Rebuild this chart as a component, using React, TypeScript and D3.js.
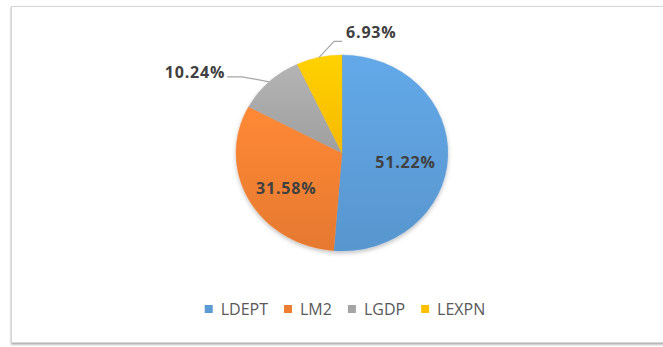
import React from 'react';
import * as d3 from 'd3';

const categories: string[] = ['LDEPT', 'LM2', 'LGDP', 'LEXPN'];
const shares: number[] = [51.22, 31.58, 10.24, 6.93];
const labels: string[] = ['51.22%', '31.58%', '10.24%', '6.93%'];
const colors: string[] = ['#5B9BD5', '#ED7D31', '#A5A5A5', '#FFC000'];

const W = 663;
const H = 347;
const cx = 342;
const cy = 153;
const rx = 106;
const ry = 98;

// layout for callout labels (outside), relative to slice edge point
const callouts: Record<number, { ex: number; ey: number; stub: number; tx: number; ty: number; anchor: string }> = {
  2: { ex: -27, ey: -5, stub: -15, tx: -2, ty: 1, anchor: 'end' },
  3: { ex: 15, ey: -16, stub: 8, tx: 4, ty: -3.5, anchor: 'start' },
};

const LABEL_FONT = '"Open Sans", "Liberation Sans", sans-serif';

function measure(text: string, font: string): number {
  const c = document.createElement('canvas');
  const ctx = c.getContext('2d');
  if (!ctx) return text.length * 8;
  ctx.font = font;
  return ctx.measureText(text).width;
}

export default function App() {
  const pie = d3.pie<number>().sort(null).value((d) => d);
  const arcs = pie(shares);
  const arc = d3.arc<d3.PieArcDatum<number>>().innerRadius(0).outerRadius(ry);
  const sx = rx / ry;

  const pt = (angle: number, r: number): [number, number] => [
    cx + Math.sin(angle) * r * rx,
    cy - Math.cos(angle) * r * ry,
  ];

  // legend layout
  const legendFontSize = 16;
  const legendFont = `${legendFontSize}px ${LABEL_FONT}`;
  const sq = 8;
  const sqGap = 8;
  const itemGap = 16;
  const widths = categories.map((c) => sq + sqGap + measure(c, legendFont));
  const total = d3.sum(widths) + itemGap * (categories.length - 1);
  const legendCx = 345;
  let lx = legendCx - total / 2;
  const legendY = 309;
  const legendItems = categories.map((c, i) => {
    const x = lx;
    lx += widths[i] + itemGap;
    return { c, x, color: colors[i] };
  });

  return (
    <svg
      width={W}
      height={H}
      style={{ position: 'absolute', left: 0, top: 0 }}
      xmlns="http://www.w3.org/2000/svg"
    >
      <defs>
        <filter id="frameShadow" x="-5%" y="-5%" width="110%" height="110%">
          <feDropShadow dx="0" dy="1.5" stdDeviation="1.2" floodColor="#000" floodOpacity="0.35" />
        </filter>
        <filter id="pieShadow" x="-20%" y="-20%" width="140%" height="140%">
          <feDropShadow dx="0" dy="2" stdDeviation="2" floodColor="#000" floodOpacity="0.25" />
        </filter>
        {colors.map((c, i) => (
          <linearGradient key={i} id={`g${i}`} x1="0" y1="0" x2="0" y2="1">
            <stop offset="0%" stopColor={d3.color(c)!.brighter(0.25).formatHex()} />
            <stop offset="100%" stopColor={d3.color(c)!.darker(0.1).formatHex()} />
          </linearGradient>
        ))}
      </defs>
      <rect x={0} y={0} width={W} height={H} fill="#ffffff" />
      <rect
        x={11.5}
        y={6.5}
        width={662}
        height={336}
        fill="#ffffff"
        stroke="#d6d6d6"
        strokeWidth={1}
        filter="url(#frameShadow)"
      />
      <g transform={`translate(${cx},${cy}) scale(${sx},1)`} filter="url(#pieShadow)">
        {arcs.map((a, i) => (
          <path key={i} d={arc(a) || ''} fill={`url(#g${i})`} stroke={colors[i]} strokeWidth={0.3} />
        ))}
      </g>
      {arcs.map((a, i) => {
        const mid = (a.startAngle + a.endAngle) / 2;
        if (callouts[i]) {
          const co = callouts[i];
          const [x0, y0] = pt(mid, 1);
          const x1 = x0 + co.ex;
          const y1 = y0 + co.ey;
          const x2 = x1 + co.stub;
          return (
            <g key={i}>
              <polyline
                points={`${x0},${y0} ${x1},${y1} ${x2},${y1}`}
                fill="none"
                stroke="#a6a6a6"
                strokeWidth={1.2}
              />
              <text
                x={x2 + co.tx}
                y={y1 + co.ty}
                textAnchor={co.anchor}
                fontFamily={LABEL_FONT}
                fontWeight="bold"
                fontSize={16}
                letterSpacing={0.8}
                fill="#404040"
              >
                {labels[i]}
              </text>
            </g>
          );
        }
        const [x, y] = pt(mid, 0.6);
        return (
          <text
            key={i}
            x={x}
            y={y + 7}
            dy="0.35em"
            textAnchor="middle"
            fontFamily={LABEL_FONT}
            fontWeight="bold"
            fontSize={16}
            letterSpacing={0.8}
            fill="#404040"
          >
            {labels[i]}
          </text>
        );
      })}
      {legendItems.map((it, i) => (
        <g key={i}>
          <rect x={it.x} y={legendY - sq / 2} width={sq} height={sq} fill={it.color} />
          <text
            x={it.x + sq + sqGap}
            y={legendY}
            dy="0.36em"
            fontFamily={LABEL_FONT}
            fontSize={legendFontSize}
            fill="#595959"
          >
            {it.c}
          </text>
        </g>
      ))}
    </svg>
  );
}
